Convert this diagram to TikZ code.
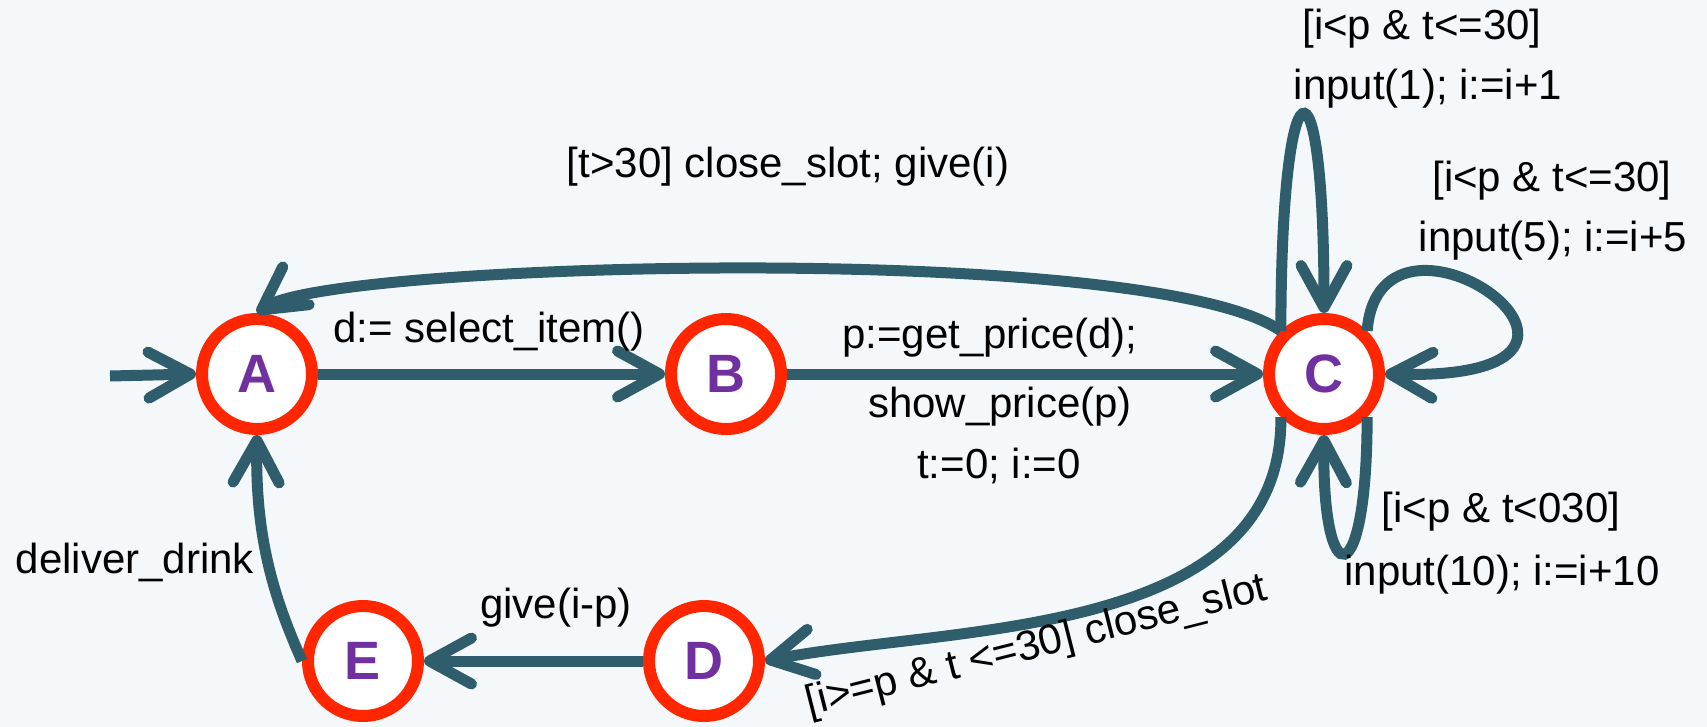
\documentclass[tikz,border=0pt]{standalone}
\usepackage{fontspec}
\setmainfont{Liberation Sans}
\usepackage{tikz}
\usetikzlibrary{arrows.meta}

\definecolor{slotbg}{RGB}{244,248,250}
\definecolor{edgeteal}{RGB}{47,93,107}
\definecolor{ringred}{RGB}{255,38,0}
\definecolor{letterpurple}{RGB}{112,48,160}

\tikzset{
  vstate/.style={circle, draw=ringred, line width=6pt, fill=white, minimum size=55pt, inner sep=0pt, text=letterpurple, font=\fontsize{27}{32}\selectfont\bfseries},
  trans/.style={draw=edgeteal, line width=5.5pt, -{Straight Barb[length=21pt,width=23pt,round]}},
  lbl/.style={inner sep=0.75pt, anchor=base, font=\fontsize{21}{25}\selectfont},
}

\begin{document}
\begin{tikzpicture}[x=0.5pt,y=0.5pt,yscale=-1,xscale=1]
%Background
\fill [slotbg] (0,0) rectangle (1707,727);
\useasboundingbox (0,0) rectangle (1707,727);

%Shape: Circle
\node [vstate] (A) at (257,374) {A};
%Shape: Circle
\node [vstate] (B) at (726,374) {B};
%Shape: Circle
\node [vstate] (C) at (1324,374) {C};
%Shape: Circle
\node [vstate] (D) at (704,661) {D};
%Shape: Circle
\node [vstate] (E) at (363,661) {E};

%Straight Lines
\coordinate (start) at (110,376);
\draw [trans] (start) -- (A.west);
%Straight Lines
\draw [trans] (A.east) -- (B.west);
%Straight Lines
\draw [trans] (B.east) -- (C.west);
%Curve Lines
\draw [trans] (C.135) .. controls (1150,240) and (330,262) .. (A.north);
%Curve Lines
\draw [trans] (C.135) .. controls (1281,56) and (1324,36) .. (C.north);
%Curve Lines
\draw [trans] (C.45) .. controls (1380,170) and (1680,382) .. (C.east);
%Curve Lines
\draw [trans] (C.-45) .. controls (1367,595) and (1322,595) .. (C.south);
%Curve Lines
\draw [trans] (C.-135) .. controls (1283,640) and (950,625) .. (D.east);
%Straight Lines
\draw [trans] (D.west) -- (E.east);
%Curve Lines
\draw [trans] (E.west) .. controls (275,600) and (255,540) .. (A.south);

% Text Node
\draw (788,178) node [lbl] (lblCA) {[t>30] close\_slot; give(i)};
% Text Node
\draw (489,343) node [lbl] (lblAB) {d:= select\_item()};
% Text Node
\draw (990,348) node [lbl] (lblBCa) {p:=get\_price(d);};
% Text Node
\draw (1000,417) node [lbl] (lblBCb) {show\_price(p)};
% Text Node
\draw (999,478) node [lbl] (lblBCc) {t:=0; i:=0};
% Text Node
\draw (1422,40) node [lbl] (lblCoa) {[i<p \& t<=30]};
% Text Node
\draw (1428,100) node [lbl] (lblCob) {input(1); i:=i+1};
% Text Node
\draw (1552,192) node [lbl] (lblCfa) {[i<p \& t<=30]};
% Text Node
\draw (1553,252) node [lbl] (lblCfb) {input(5); i:=i+5};
% Text Node
\draw (1501,522) node [lbl] (lblCta) {[i<p \& t<030]};
% Text Node
\draw (1502,585) node [lbl] (lblCtb) {input(10); i:=i+10};
% Text Node
\draw (808,716) node [lbl, anchor=base west, rotate=14.2] (lblCD) {[i>=p \& t <=30] close\_slot};
% Text Node
\draw (556,618) node [lbl] (lblDE) {give(i-p)};
% Text Node
\draw (135,573) node [lbl] (lblEA) {deliver\_drink};

\end{tikzpicture}
\end{document}
